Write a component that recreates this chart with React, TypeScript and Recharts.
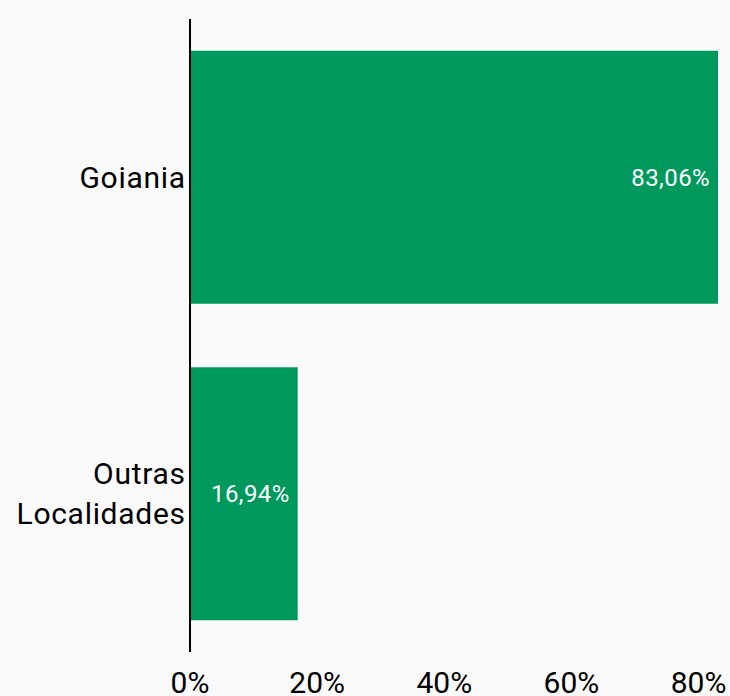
import { Bar, BarChart, LabelList, XAxis, YAxis } from "recharts";

const categories = ["Goiania", "Outras Localidades"];
const shares = [83.06, 16.94];
const xTicks = [0, 20, 40, 60, 80];

const data = categories.map((name, i) => ({ name, value: shares[i] }));

const fmtPct = (v: number) => `${v.toFixed(2).replace(".", ",")}%`;

const CategoryTick = (props: any) => {
  const { x, y, payload } = props;
  const words = String(payload.value).split(" ");
  const lineH = 40;
  const first = -((words.length - 1) * lineH) / 2;
  return (
    <text x={x - 4.3} y={y} textAnchor="end" fill="#000" fontSize={30} letterSpacing={0.7}>
      {words.map((w, i) => (
        <tspan key={i} x={x - 4.3} dy={i === 0 ? first + 10.5 : lineH}>
          {w}
        </tspan>
      ))}
    </text>
  );
};

const PctTick = (props: any) => {
  const { x, y, payload } = props;
  return (
    <text x={x} y={y} dy={41} textAnchor="middle" fill="#000" fontSize={30}>
      {payload.value}%
    </text>
  );
};

export default function App() {
  return (
    <div
      style={{
        position: "fixed",
        top: 0,
        left: 0,
        width: 730,
        height: 696,
        background: "#fafafa",
        fontFamily: "Roboto, sans-serif"
      }}
    >
      <BarChart
        width={730}
        height={696}
        data={data}
        layout="vertical"
        margin={{ top: 19, right: 12, bottom: 0, left: 0 }}
        barCategoryGap="10%"
      >
        <XAxis
          type="number"
          domain={[0, "dataMax"]}
          ticks={xTicks}
          axisLine={false}
          tickLine={false}
          tickSize={0}
          tickMargin={0}
          height={44}
          tick={<PctTick />}
          interval={0}
        />
        <YAxis
          type="category"
          dataKey="name"
          width={190}
          axisLine={{ stroke: "#000", strokeWidth: 2 }}
          tickLine={false}
          tickSize={0}
          tickMargin={0}
          tick={<CategoryTick />}
          interval={0}
        />
        <Bar dataKey="value" fill="#00995D" isAnimationActive={false}>
          <LabelList
            dataKey="value"
            position="insideRight"
            offset={8}
            fill="#fff"
            fontSize={24}
            letterSpacing={0.4}
            formatter={(v: any) => fmtPct(Number(v))}
          />
        </Bar>
      </BarChart>
    </div>
  );
}
